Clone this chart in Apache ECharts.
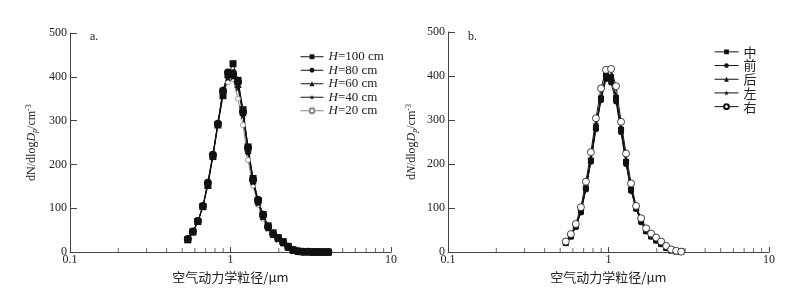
<!DOCTYPE html>
<html>
<head>
<meta charset="utf-8">
<script src="https://cdn.jsdelivr.net/npm/echarts@6/dist/echarts.min.js"></script>
<style>
html, body { margin: 0; background: #fff; }
#main { width: 803px; height: 289px; }
</style>
</head>
<body>
<div id="main"></div>
<script>
// APS channel midpoints (um)
const sizesA = [0.542, 0.583, 0.626, 0.673, 0.723, 0.777, 0.835, 0.898, 0.965, 1.037, 1.114, 1.197, 1.286, 1.382,
    1.486, 1.596, 1.715, 1.843, 1.981, 2.129, 2.288, 2.458, 2.642, 2.839, 3.051, 3.278, 3.523, 3.786, 4.068];
const sizesB = sizesA.slice(0, 24);

// a. different heights
const h100 = [28, 46, 70, 104, 152, 218, 290, 357, 405, 430, 392, 325, 240, 168, 118, 86, 60, 44, 33, 24, 13, 5, 2, 1, 1, 0.5, 0.5, 0.3, 0.2];
const h80 = [30, 47, 71, 105, 158, 222, 293, 368, 410, 408, 388, 320, 238, 165, 119, 85, 58, 42, 32, 22, 12, 5, 2, 1, 1, 0.5, 0.5, 0.3, 0.2];
const h60 = [29, 47, 70, 104, 160, 224, 295, 370, 405, 410, 383, 318, 232, 163, 115, 82, 57, 41, 31, 22, 11, 4, 2, 1, 1, 0.5, 0.4, 0.3, 0.2];
const h40 = [29, 46, 69, 103, 157, 221, 294, 365, 398, 400, 375, 312, 228, 160, 112, 80, 55, 40, 30, 21, 11, 4, 2, 1, 1, 0.5, 0.4, 0.3, 0.2];
const h20 = [28, 45, 68, 102, 154, 219, 290, 360, 388, 395, 350, 290, 210, 152, 108, 76, 53, 38, 29, 20, 10, 4, 2, 1, 1, 0.5, 0.4, 0.3, 0.2];

// b. different positions
const mid = [21, 36, 59, 92, 145, 208, 283, 349, 400, 395, 350, 278, 205, 142, 100, 70, 48, 36, 27, 19, 10, 4, 2, 1];
const front = [20, 35, 57, 90, 142, 205, 279, 345, 393, 385, 342, 272, 200, 139, 98, 68, 47, 35, 26, 18, 9, 4, 2, 1];
const back = [22, 37, 60, 94, 148, 212, 287, 353, 405, 400, 356, 284, 209, 145, 101, 71, 49, 37, 28, 19, 10, 4, 2, 1];
const leftPos = [21, 36, 58, 93, 146, 210, 290, 350, 398, 402, 352, 280, 207, 143, 100, 70, 48, 36, 27, 19, 10, 4, 2, 1];
const rightPos = [24, 41, 64, 102, 160, 227, 304, 372, 414, 416, 377, 296, 224, 156, 105, 77, 54, 42, 33, 24, 14, 6, 3, 1];

const minorTicks = [0.2, 0.3, 0.4, 0.5, 0.6, 0.7, 0.8, 0.9, 2, 3, 4, 5, 6, 7, 8, 9];

const namesA = ['H=100 cm', 'H=80 cm', 'H=60 cm', 'H=40 cm', 'H=20 cm'];
const namesB = ['中', '前', '后', '左', '右'];

const serif = "'Liberation Serif', 'Noto Sans CJK SC', serif";
const cjk = "'Noto Sans CJK SC', 'Liberation Serif', serif";
const star = 'path://M0,-10L2.35,-3.24L9.51,-3.09L3.8,1.24L5.88,8.09L0,4L-5.88,8.09L-3.8,1.24L-9.51,-3.09L-2.35,-3.24Z';

const pairs = (xs, ys) => xs.map((x, i) => [x, ys[i]]);

const chart = echarts.init(document.getElementById('main'));

const xAxisBase = (gi) => ({
    type: 'log',
    logBase: 10,
    gridIndex: gi,
    min: 0.1,
    max: 10,
    name: '空气动力学粒径/μm',
    nameLocation: 'middle',
    nameGap: 13,
    nameTextStyle: { fontFamily: cjk, fontSize: 13, color: '#222' },
    axisLine: { lineStyle: { color: '#444', width: 1 } },
    axisTick: { inside: true, length: 5, lineStyle: { color: '#444' } },
    axisLabel: { margin: 2, fontFamily: serif, fontSize: 12, color: '#222' },
    splitLine: { show: false },
    minorTick: { show: false },
    minorSplitLine: { show: false }
});

const yAxisBase = (gi, gap, italicN) => ({
    type: 'value',
    gridIndex: gi,
    min: 0,
    max: 500,
    interval: 100,
    name: italicN ? '{n|d}{i|N}{n|/dlog}{i|D}{s|p}{n|/cm}{u|-3}' : '{n|dN/dlog}{i|D}{s|p}{n|/cm}{u|-3}',
    nameLocation: 'middle',
    nameGap: gap,
    nameTextStyle: {
        rich: {
            n: { fontFamily: serif, fontSize: 12, color: '#222' },
            i: { fontFamily: serif, fontSize: 12, fontStyle: 'italic', color: '#222' },
            s: { fontFamily: serif, fontSize: 8, fontStyle: 'italic', color: '#222', padding: [6, 0, 0, 0] },
            u: { fontFamily: serif, fontSize: 8, color: '#222', padding: [0, 0, 6, 0] }
        }
    },
    axisLine: { show: true, lineStyle: { color: '#444', width: 1 } },
    axisTick: { show: true, inside: true, length: 7, lineStyle: { color: '#444' } },
    axisLabel: { margin: 3, fontFamily: serif, fontSize: 12, color: '#222' },
    splitLine: { show: false }
});

// hollow=true: white-filled marker with a thin outline in the line colour
const lineSeries = (name, xi, data, symbol, size, color, hollow) => ({
    name: name,
    type: 'line',
    xAxisIndex: xi,
    yAxisIndex: xi,
    data: data,
    symbol: symbol,
    symbolSize: size,
    showSymbol: true,
    showAllSymbol: true,
    lineStyle: { color: color, width: 1 },
    itemStyle: hollow
        ? { color: '#fff', borderColor: color, borderWidth: 0.8 }
        : { color: color, borderWidth: 0 },
    emphasis: { disabled: true }
});

const tickSeries = (xi) => ({
    type: 'scatter',
    xAxisIndex: xi,
    yAxisIndex: xi,
    data: minorTicks.map(v => [v, 0]),
    symbol: 'rect',
    symbolSize: [1, 4],
    symbolOffset: [0, -2],
    itemStyle: { color: '#444' },
    silent: true,
    z: 1
});

const legendRich = {
    i: { fontFamily: serif, fontSize: 13, fontStyle: 'italic', color: '#222' },
    t: { fontFamily: serif, fontSize: 13, color: '#222' }
};

chart.setOption({
    animation: false,
    backgroundColor: '#fff',
    title: [
        { text: 'a.', left: 85, top: 26, textStyle: { fontFamily: serif, fontSize: 12, fontWeight: 'normal', color: '#222' } },
        { text: 'b.', left: 463, top: 26, textStyle: { fontFamily: serif, fontSize: 12, fontWeight: 'normal', color: '#222' } }
    ],
    grid: [
        { left: 70, top: 33, width: 321, height: 221 },
        { left: 448, top: 32, width: 321, height: 221 }
    ],
    legend: [
        {
            data: namesA,
            orient: 'vertical',
            left: 295,
            top: 45,
            itemWidth: 23,
            itemHeight: 6,
            itemGap: 0,
            lineStyle: { width: 1 },
            formatter: n => '{i|H}{t|' + n.slice(1) + '}',
            textStyle: { lineHeight: 13.5, rich: legendRich }
        },
        {
            data: namesB,
            orient: 'vertical',
            left: 709,
            top: 40,
            itemWidth: 24,
            itemHeight: 6,
            itemGap: 0,
            lineStyle: { width: 1 },
            textStyle: { fontFamily: cjk, fontSize: 13, lineHeight: 13.7, color: '#222' }
        }
    ],
    xAxis: [xAxisBase(0), xAxisBase(1)],
    yAxis: [yAxisBase(0, 31, false), yAxisBase(1, 29, true)],
    series: [
        tickSeries(0),
        tickSeries(1),
        lineSeries(namesA[4], 0, pairs(sizesA, h20), 'circle', 5, '#888', true),
        lineSeries(namesA[3], 0, pairs(sizesA, h40), star, 8, '#111'),
        lineSeries(namesA[2], 0, pairs(sizesA, h60), 'triangle', 7, '#111'),
        lineSeries(namesA[1], 0, pairs(sizesA, h80), 'circle', 8, '#111'),
        lineSeries(namesA[0], 0, pairs(sizesA, h100), 'rect', 7, '#111'),
        lineSeries(namesB[0], 1, pairs(sizesB, mid), 'rect', 6, '#111'),
        lineSeries(namesB[1], 1, pairs(sizesB, front), 'circle', 6, '#111'),
        lineSeries(namesB[2], 1, pairs(sizesB, back), 'triangle', 6, '#111'),
        lineSeries(namesB[3], 1, pairs(sizesB, leftPos), star, 7, '#111'),
        lineSeries(namesB[4], 1, pairs(sizesB, rightPos), 'circle', 7, '#111', true)
    ]
});
</script>
</body>
</html>
